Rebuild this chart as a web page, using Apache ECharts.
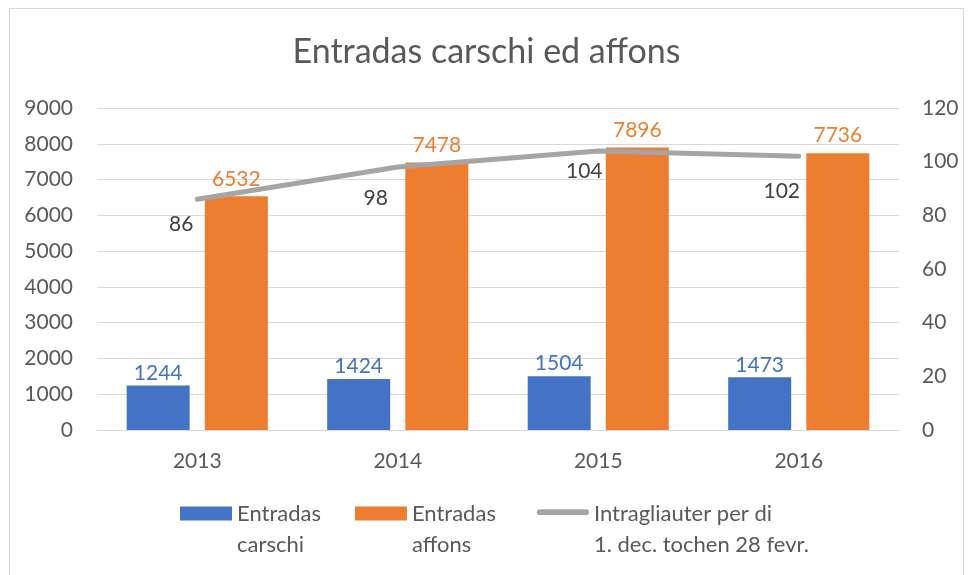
<!DOCTYPE html>
<html>
<head>
<meta charset="utf-8">
<script src="https://cdn.jsdelivr.net/npm/echarts@6/dist/echarts.min.js"></script>
<style>
  html, body { margin: 0; padding: 0; background: #fff; }
  #chart { position: absolute; left: 9px; top: 8px; width: 955px; height: 580px; border: 1px solid #d9d9d9; box-sizing: border-box; }
</style>
</head>
<body>
<div id="chart"></div>
<script>
var years = ['2013', '2014', '2015', '2016'];
var carschi = [1244, 1424, 1504, 1473];
var affons = [6532, 7478, 7896, 7736];
var intragliauter = [86, 98, 104, 102];
var leftTicks = [0, 9000, 1000];
var rightTicks = [0, 120, 20];

var font = 'Lato';
var grey = '#595959';

// legend icons: shape in the upper part so it lines up with the first text line
var rectIcon = 'path://M0,0 L52,0 L52,14 L0,14 Z M0,45 L0.01,45 L0,45 Z';
var lineIcon = 'path://M3,4 L51,4 A3,3 0 0 1 51,10 L3,10 A3,3 0 0 1 3,4 Z M0,45 L0.01,45 L0,45 Z';

var lineOffsets = [[-16, 10], [-22, 16], [-14, 5], [-17, 19]];

var myChart = echarts.init(document.getElementById('chart'));

var option = {
    animation: false,
    title: {
        text: 'Entradas carschi ed affons',
        left: 'center',
        top: 21,
        textStyle: { fontFamily: font, fontSize: 34, fontWeight: 'normal', color: grey }
    },
    legend: {
        bottom: 22,
        left: 165,
        itemWidth: 52,
        itemHeight: 45,
        itemGap: 34,
        textStyle: { fontFamily: font, fontSize: 22, color: grey, lineHeight: 31 },
        data: [
            { name: 'Entradas\ncarschi', icon: rectIcon },
            { name: 'Entradas\naffons', icon: rectIcon, textStyle: { fontFamily: font, fontSize: 22, color: grey, lineHeight: 31, padding: [0, 7, 0, 0] } },
            { name: 'Intragliauter per di\n1. dec. tochen 28 fevr.', icon: lineIcon }
        ]
    },
    grid: { left: 87, right: 64, top: 99, bottom: 157 },
    xAxis: {
        type: 'category',
        data: years,
        axisTick: { show: false },
        axisLine: { lineStyle: { color: '#d9d9d9', width: 1 } },
        axisLabel: { fontFamily: font, fontSize: 21, color: grey, margin: 21 }
    },
    yAxis: [{
        type: 'value',
        min: leftTicks[0], max: leftTicks[1], interval: leftTicks[2],
        axisLine: { show: false },
        axisTick: { show: false },
        splitLine: { lineStyle: { color: '#d9d9d9', width: 1 } },
        axisLabel: { fontFamily: font, fontSize: 21, color: grey, margin: 24, formatter: function (v) { return String(v); } }
    }, {
        type: 'value',
        min: rightTicks[0], max: rightTicks[1], interval: rightTicks[2],
        axisLine: { show: false },
        axisTick: { show: false },
        splitLine: { show: false },
        axisLabel: { fontFamily: font, fontSize: 21, color: grey, margin: 23 }
    }],
    series: [{
        name: 'Entradas\ncarschi',
        type: 'bar',
        data: carschi,
        barWidth: 63,
        barGap: '24%',
        itemStyle: { color: '#4472C4' },
        label: { show: true, position: 'top', distance: 2, fontFamily: font, fontSize: 21, color: '#4472C4' }
    }, {
        name: 'Entradas\naffons',
        type: 'bar',
        data: affons,
        barWidth: 63,
        itemStyle: { color: '#ED7D31' },
        label: { show: true, position: 'top', distance: 7, fontFamily: font, fontSize: 21, color: '#ED7D31' }
    }, {
        name: 'Intragliauter per di\n1. dec. tochen 28 fevr.',
        type: 'line',
        yAxisIndex: 1,
        z: 5,
        symbol: 'circle',
        symbolSize: 0,
        showSymbol: true,
        itemStyle: { color: '#A5A5A5' },
        lineStyle: { color: '#A5A5A5', width: 5, cap: 'round' },
        data: intragliauter.map(function (v, i) {
            return {
                value: v,
                label: { show: true, position: 'bottom', offset: lineOffsets[i], fontFamily: font, fontSize: 21, color: '#404040' }
            };
        })
    }]
};

myChart.setOption(option);
</script>
</body>
</html>
